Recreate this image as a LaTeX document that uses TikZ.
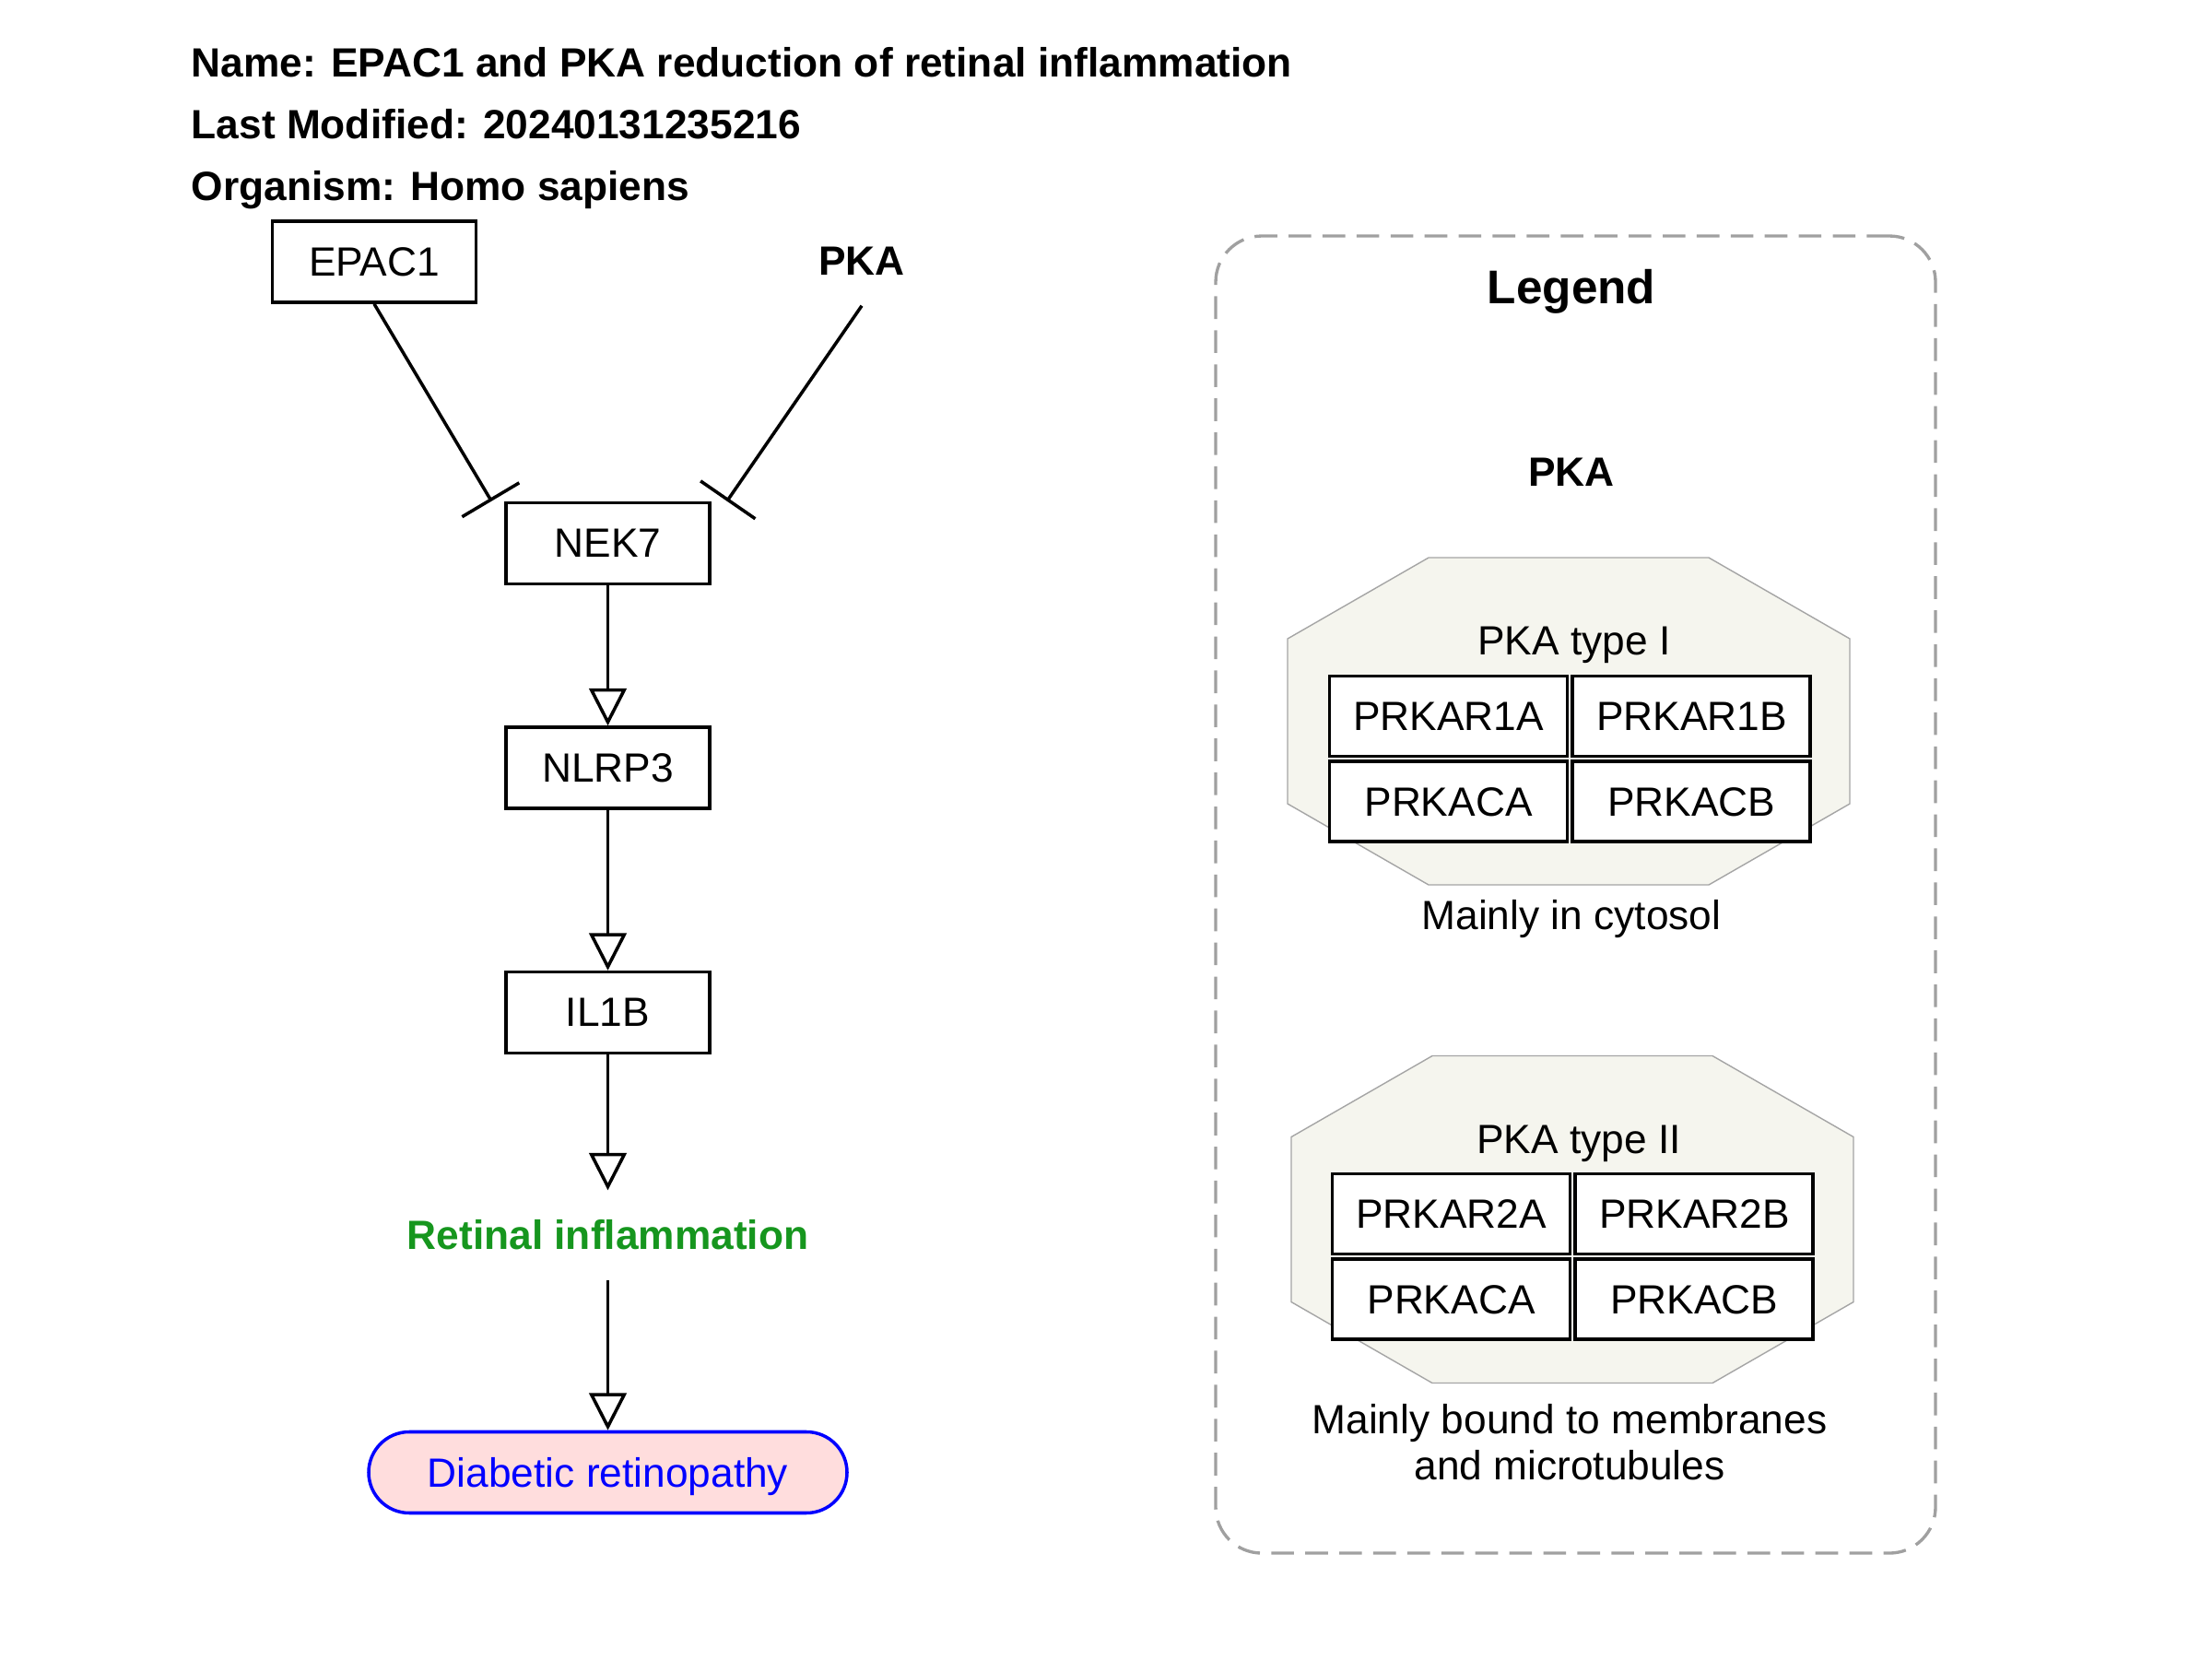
\documentclass[tikz,border=0pt]{standalone}
\usepackage{fontspec}
\setmainfont{Liberation Sans}
\usepackage{xcolor}
\definecolor{retgreen}{RGB}{22,150,30}
\definecolor{drpink}{RGB}{255,221,221}
\definecolor{drblue}{RGB}{0,0,255}
\definecolor{octfill}{RGB}{245,245,238}
\definecolor{octline}{RGB}{165,165,165}
\definecolor{legendgray}{RGB}{160,160,160}
\usepackage{tikz}
\usetikzlibrary{arrows.meta,positioning}

\begin{document}
\begin{tikzpicture}[
  txt/.style={font=\fontsize{12.6}{14}\selectfont},
  title/.style={font=\fontsize{12.6}{15.1}\selectfont\bfseries,anchor=base west,inner sep=0pt},
  gene/.style={rectangle,draw,line width=1pt,minimum width=2.21cm,
    minimum height=0.88cm,inner sep=0pt,txt},
  cell/.style={rectangle,draw,fill=white,line width=1.1pt,minimum width=2.58cm,
    minimum height=0.87cm,inner sep=0pt,txt},
  label/.style={txt,inner sep=0pt,anchor=base,align=center},
  arrow/.style={-{Triangle[open,length=11.5pt,width=11.5pt]},line width=1pt},
  inhibit/.style={-{Bar[width=20.5pt]},line width=1pt},
  legendbox/.style={rectangle,draw=legendgray,dash pattern=on 7pt off 3.5pt,
    line width=0.95pt,rounded corners=0.5cm,minimum width=7.81cm,minimum height=14.29cm},
  pkaoct/.pic={
    \draw[fill=octfill,draw=octline,line width=0.4pt]
      (-3.05,0.895) -- (-1.52,1.775) -- (1.52,1.775) -- (3.05,0.895) --
      (3.05,-0.895) -- (1.52,-1.775) -- (-1.52,-1.775) -- (-3.05,-0.895) -- cycle;
  },
]
\useasboundingbox (0,0) rectangle (24,-18);

\node[title] (name) at (2.07,-0.83) {Name: EPAC1 and PKA reduction of retinal inflammation};
\node[title] (lastmod) at (2.07,-1.50) {Last Modified: 20240131235216};
\node[title] (organism) at (2.07,-2.17) {Organism: Homo sapiens};

\node[gene] (epac) at (4.06,-2.84) {EPAC1};
\node[txt,font=\fontsize{12.6}{15.1}\selectfont\bfseries,minimum height=0.96cm] (pka) at (9.35,-2.83) {PKA};
\node[gene] (nek) at (6.595,-5.895) {NEK7};
\node[gene,below=1.52cm of nek] (nlrp) {NLRP3};
\node[gene,below=1.74cm of nlrp] (il1b) {IL1B};
\node[txt,font=\fontsize{12.6}{15.1}\selectfont\bfseries,text=retgreen,
  minimum height=0.96cm,inner sep=0pt,below=1.47cm of il1b] (retinf) {Retinal inflammation};
\node[rectangle,draw=drblue,fill=drpink,text=drblue,line width=1pt,rounded corners=0.44cm,
  minimum width=5.19cm,minimum height=0.88cm,inner sep=0pt,text depth=0pt,txt,
  below=1.63cm of retinf] (diabret) {Diabetic retinopathy};

\coordinate (nekL) at ([xshift=-0.14cm]nek.north west);
\coordinate (nekR) at ([xshift=0.17cm]nek.north east);
\draw[inhibit] (epac.south) -- (nekL);
\draw[inhibit] (pka.south) -- (nekR);
\draw[arrow] (nek) -- (nlrp);
\draw[arrow] (nlrp) -- (il1b);
\draw[arrow] (il1b) -- (retinf);
\draw[arrow] (retinf) -- (diabret);

\node[legendbox] (legend) at (17.095,-9.705) {};
\node[label,font=\fontsize{14.6}{17.5}\selectfont\bfseries] (legtitle) at (17.05,-3.29) {Legend};
\node[label,font=\fontsize{12.6}{15.1}\selectfont\bfseries] (legpka) at (17.05,-5.27) {PKA};

\pic at (17.02,-7.825) {pkaoct};
\node[label] (typeI) at (17.08,-7.10) {PKA type I};
\node[cell] (r1a) at (15.715,-7.77) {PRKAR1A};
\node[cell,right=0.02cm of r1a] (r1b) {PRKAR1B};
\node[cell,below=0.02cm of r1a] (ca1) {PRKACA};
\node[cell,below=0.02cm of r1b] (cb1) {PRKACB};
\node[label] (cytosol) at (17.05,-10.08) {Mainly in cytosol};

\pic at (17.06,-13.23) {pkaoct};
\node[label] (typeII) at (17.13,-12.51) {PKA type II};
\node[cell] (r2a) at (15.745,-13.17) {PRKAR2A};
\node[cell,right=0.02cm of r2a] (r2b) {PRKAR2B};
\node[cell,below=0.02cm of r2a] (ca2) {PRKACA};
\node[cell,below=0.02cm of r2b] (cb2) {PRKACB};
\node[label] (membr) at (17.03,-16.05) {Mainly bound to membranes\\and microtubules};
\end{tikzpicture}
\end{document}
